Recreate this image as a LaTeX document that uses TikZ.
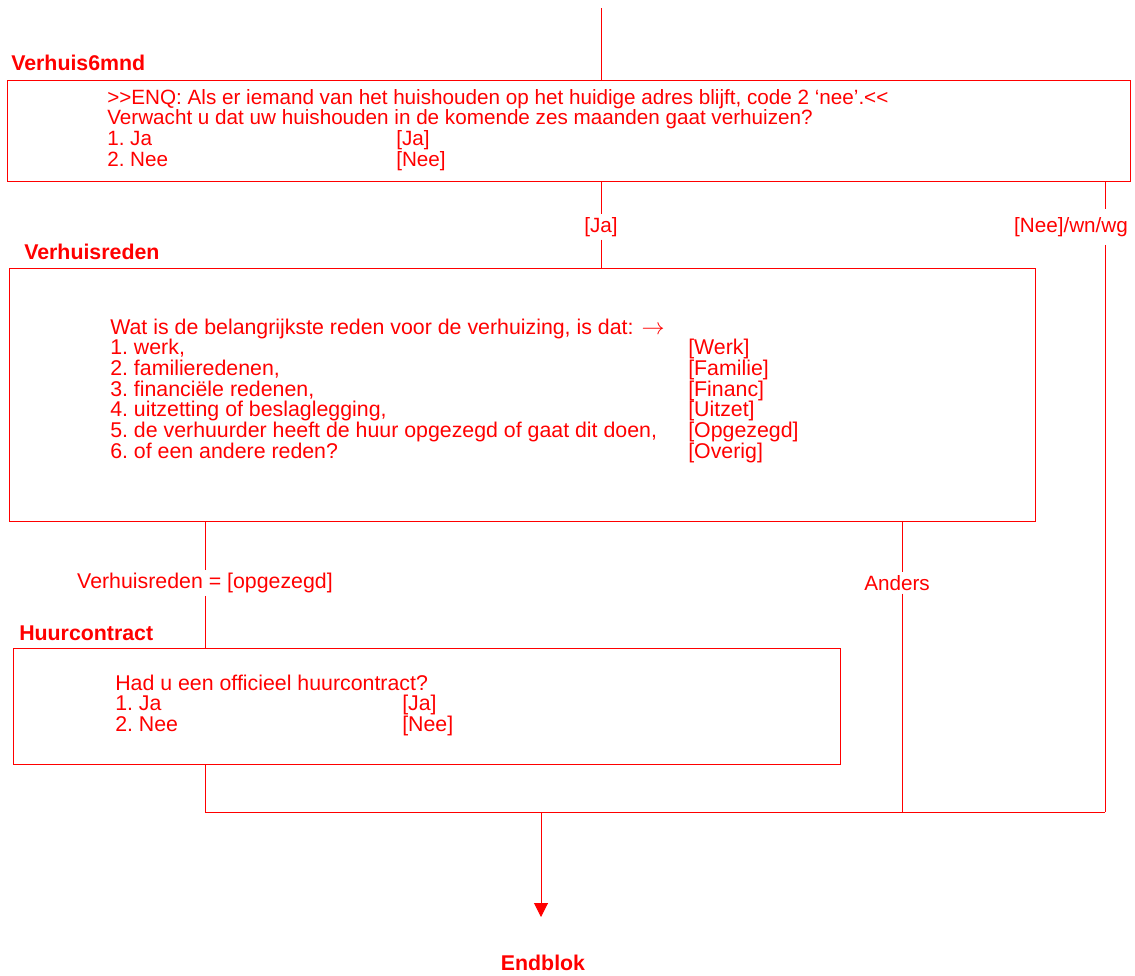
\documentclass[tikz,border=0pt]{standalone}
\usepackage{fontspec}
\setmainfont{Liberation Sans}
\usetikzlibrary{arrows.meta}
\definecolor{rd}{RGB}{255,0,0}
\frenchspacing
\begin{document}
\begin{tikzpicture}[x=0.75pt,y=-0.75pt,
  font=\fontsize{15.5}{15.5}\selectfont,
  box/.style={draw=rd, line width=0.75pt, inner sep=0pt, anchor=north west},
  head/.style={text=rd, font=\fontsize{16}{16}\selectfont\bfseries, inner sep=0pt, anchor=base west},
  txt/.style={text=rd, inner sep=0pt, anchor=base west},
  txtb/.style={txt, font=\fontsize{16}{16}\selectfont},
  edgelbl/.style={text=rd, inner xsep=1pt, inner ysep=2pt, anchor=center},
  conn/.style={draw=rd, line width=0.75pt}]
\useasboundingbox (0,0) rectangle (1135,975);

% ---- Verhuis6mnd
\node[head] (h1) at (11,70) {Verhuis6mnd};
\node[box, minimum width=842.25pt, minimum height=75.75pt] (b1) at (7,80) {};
\node[txt] (t11) at (107,104) {>{}>ENQ: Als er iemand van het huishouden op het huidige adres blijft, code 2 ‘nee’.<{}<};
\node[txt] (t12) at (107,124.7) {Verwacht u dat uw huishouden in de komende zes maanden gaat verhuizen?};
\node[txt] (t13) at (107,145.4) {1. Ja};
\node[txt] (t13r) at (396,145.4) {[Ja]};
\node[txt] (t14) at (107,166.1) {2. Nee};
\node[txt] (t14r) at (396,166.1) {[Nee]};

% ---- Verhuisreden
\node[head] (h2) at (24,259) {Verhuisreden};
\node[box, minimum width=769.5pt, minimum height=189.75pt] (b2) at (9,268) {};
\node[txtb] (t20) at (110,334) {Wat is de belangrijkste reden voor de verhuizing, is dat:\hspace{6pt}$\rightarrow$};
\node[txtb] (t21) at (110,354.7) {1. werk,};
\node[txtb] (t21r) at (688,354.7) {[Werk]};
\node[txtb] (t22) at (110,375.4) {2. familieredenen,};
\node[txtb] (t22r) at (688,375.4) {[Familie]};
\node[txtb] (t23) at (110,396.1) {3. financiële redenen,};
\node[txtb] (t23r) at (688,396.1) {[Financ]};
\node[txtb] (t24) at (110,416.8) {4. uitzetting of beslaglegging,};
\node[txtb] (t24r) at (688,416.8) {[Uitzet]};
\node[txtb] (t25) at (110,437.5) {5. de verhuurder heeft de huur opgezegd of gaat dit doen,};
\node[txtb] (t25r) at (688,437.5) {[Opgezegd]};
\node[txtb] (t26) at (110,458.2) {6. of een andere reden?};
\node[txtb] (t26r) at (688,458.2) {[Overig]};

% ---- Huurcontract
\node[head] (h3) at (19,640) {Huurcontract};
\node[box, minimum width=620.25pt, minimum height=87pt] (b3) at (13,648) {};
\node[txtb] (t31) at (115,690) {Had u een officieel huurcontract?};
\node[txtb] (t32) at (115,710.7) {1. Ja};
\node[txtb] (t32r) at (402,710.7) {[Ja]};
\node[txtb] (t33) at (115,731.4) {2. Nee};
\node[txtb] (t33r) at (402,731.4) {[Nee]};

% ---- Endblok
\node[head, anchor=base] (end) at (543,970) {Endblok};

% ---- edge labels
\node[edgelbl] (lja) at (601,227) {[Ja]};
\node[edgelbl] (lnee) at (1071,227) {[Nee]/wn/wg};
\node[edgelbl, font=\fontsize{16}{16}\selectfont] (lopg) at (205,583) {Verhuisreden = [opgezegd]};
\node[edgelbl] (land) at (897,583) {Anders};

% ---- coordinates
\coordinate (top) at (601,8);
\coordinate (nx) at (1105,0);
\coordinate (ax) at (902,0);
\coordinate (bl) at (205,812);
\coordinate (br) at (1105,812);
\coordinate (am) at (541,812);
\coordinate (atip) at (541,917);

% ---- connectors
\draw[conn] (top) -- (top |- b1.north);
\draw[conn] (b1.south -| lja) -- (lja.north);
\draw[conn] (lja.south) -- (b2.north -| lja);
\draw[conn] (b1.south -| nx) -- ([yshift=4pt]lnee.north -| nx);
\draw[conn] ([yshift=-4pt]lnee.south -| nx) -- (br);
\draw[conn] (b2.south -| lopg) -- (lopg.north);
\draw[conn] (lopg.south) -- (b3.north -| lopg);
\draw[conn] (b2.south -| ax) -- (ax |- land.north);
\draw[conn] (ax |- land.south) -- (ax |- bl);
\draw[conn] (b3.south -| bl) -- (bl) -- (br);
\draw[conn, -{Triangle[length=10.5pt,width=10.5pt]}] (am) -- (atip);
\end{tikzpicture}
\end{document}
